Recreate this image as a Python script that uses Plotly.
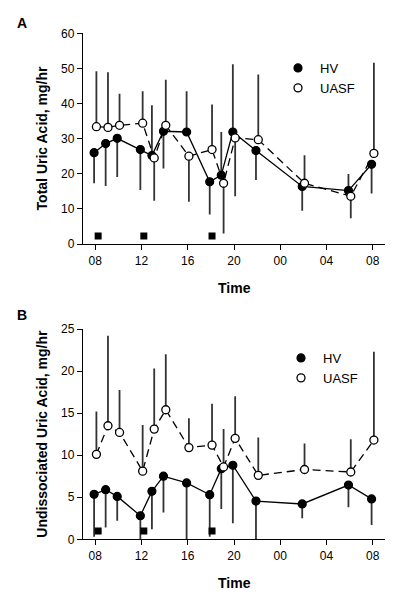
import plotly.graph_objects as go

# ---------------- data ----------------
times = [8, 9, 10, 12, 13, 14, 16, 18, 19, 20, 22, 26, 30, 32]
tick_vals = [8, 12, 16, 20, 24, 28, 32]
tick_text = ["08", "12", "16", "20", "00", "04", "08"]
meal_times = [8.25, 12.2, 18.1]

# Panel A: total uric acid (mg/hr)
hv_total = [26.0, 28.6, 30.1, 26.9, 25.2, 32.1, 31.9, 17.7, 19.6, 31.9, 26.6, 16.4, 15.2, 22.7]
hv_total_err = [8.7, 12.1, 11.0, 11.5, 14.3, 10.6, 11.6, 9.3, 12.3, 19.3, 8.4, 6.9, 4.7, 8.3]
uasf_total = [33.4, 33.2, 33.8, 34.4, 24.5, 33.8, 25.0, 26.9, 17.3, 30.2, 29.7, 17.3, 13.6, 25.8]
uasf_total_err = [15.8, 15.7, 9.0, 9.1, 12.2, 13.0, 13.0, 12.8, 14.3, 16.6, 18.6, 8.0, 6.3, 25.8]
meal_level_total = [2.3, 2.3, 2.3]

# Panel B: undissociated uric acid (mg/hr)
hv_undiss = [5.35, 5.9, 5.1, 2.8, 5.7, 7.5, 6.7, 5.3, 8.4, 8.8, 4.55, 4.2, 6.45, 4.8]
hv_undiss_err = [5.05, 4.5, 2.9, 2.8, 4.5, 4.3, 6.7, 5.0, 4.8, 6.9, 4.55, 1.7, 2.65, 3.1]
uasf_undiss = [10.1, 13.5, 12.7, 8.1, 13.1, 15.4, 10.9, 11.2, 8.6, 12.0, 7.6, 8.3, 8.0, 11.8]
uasf_undiss_err = [5.1, 10.7, 5.05, 5.5, 7.2, 6.6, 3.5, 4.9, 4.5, 5.0, 4.5, 3.1, 3.9, 10.5]
meal_level_undiss = [1.0, 1.0, 1.0]

# ---------------- styling ----------------
FONT = "Arial, Liberation Sans, Helvetica, sans-serif"
X_SHIFT = 0.1  # horizontal offset of the two groups (hours)
ERR_COLOR = "#333333"


def one_sided(vals, errs, other):
    up = [e if v >= o else 0 for v, e, o in zip(vals, errs, other)]
    down = [0 if v >= o else e for v, e, o in zip(vals, errs, other)]
    return up, down


def add_panel(fig, hv, hv_err, ua, ua_err, meal_y, xa, ya, legend):
    hv_x = [t - X_SHIFT for t in times]
    ua_x = [t + X_SHIFT for t in times]
    fig.add_trace(go.Scatter(x=hv_x, y=hv, mode="lines", xaxis=xa, yaxis=ya,
                             line=dict(color="black", width=1.3),
                             showlegend=False, hoverinfo="skip"))
    fig.add_trace(go.Scatter(x=ua_x, y=ua, mode="lines", xaxis=xa, yaxis=ya,
                             line=dict(color="black", width=1.3, dash="8px,5px"),
                             showlegend=False, hoverinfo="skip"))
    hv_up, hv_dn = one_sided(hv, hv_err, ua)
    ua_up, ua_dn = one_sided(ua, ua_err, hv)
    fig.add_trace(go.Scatter(
        x=hv_x, y=hv, mode="markers", name="HV", xaxis=xa, yaxis=ya, legend=legend,
        marker=dict(size=8, color="black", line=dict(color="black", width=1.2)),
        error_y=dict(type="data", symmetric=False, array=hv_up, arrayminus=hv_dn,
                     width=0, thickness=1.8, color=ERR_COLOR)))
    fig.add_trace(go.Scatter(
        x=ua_x, y=ua, mode="markers", name="UASF", xaxis=xa, yaxis=ya, legend=legend,
        marker=dict(size=8, color="white", line=dict(color="black", width=1.3)),
        error_y=dict(type="data", symmetric=False, array=ua_up, arrayminus=ua_dn,
                     width=0, thickness=1.8, color=ERR_COLOR)))
    fig.add_trace(go.Scatter(
        x=meal_times, y=meal_y, mode="markers", xaxis=xa, yaxis=ya, showlegend=False,
        marker=dict(symbol="square", size=7, color="black"), hoverinfo="skip"))


fig = go.Figure()
add_panel(fig, hv_total, hv_total_err, uasf_total, uasf_total_err, meal_level_total,
          "x", "y", "legend")
add_panel(fig, hv_undiss, hv_undiss_err, uasf_undiss, uasf_undiss_err, meal_level_undiss,
          "x2", "y2", "legend2")

W, H = 400, 601
x_dom = [83 / W, 385 / W]
top_dom = [(H - 244) / H, (H - 33.3) / H]
bot_dom = [(H - 539.3) / H, (H - 329) / H]

xaxis_common = dict(range=[6.94, 33.06], tickvals=tick_vals, ticktext=tick_text,
                    showline=True, linecolor="black", linewidth=1.3, ticks="outside",
                    ticklen=5, tickwidth=1.3, tickcolor="black", showgrid=False,
                    zeroline=False, automargin=False,
                    tickfont=dict(family=FONT, size=12, color="black"), domain=x_dom)
yaxis_common = dict(showline=True, linecolor="black", linewidth=1.3, ticks="outside",
                    ticklen=5, tickwidth=1.3, tickcolor="black", showgrid=False,
                    zeroline=False, automargin=False,
                    tickfont=dict(family=FONT, size=12, color="black"))

title_font = dict(family=FONT, size=14, color="black")


def paper_y(px):
    return (H - px) / H


annotations = [
    dict(text="<b>A</b>", x=21.7 / W, y=paper_y(23.3)),
    dict(text="<b>B</b>", x=21.7 / W, y=paper_y(315)),
    dict(text="<b>Total Uric Acid, mg/hr</b>", x=41.7 / W, y=paper_y(138.7), textangle=-90),
    dict(text="<b>Undissociated Uric Acid, mg/hr</b>", x=41.7 / W, y=paper_y(434),
         textangle=-90),
    dict(text="<b>Time</b>", x=234 / W, y=paper_y(288)),
    dict(text="<b>Time</b>", x=234 / W, y=paper_y(583)),
]
for a in annotations:
    a.update(xref="paper", yref="paper", showarrow=False, xanchor="center",
             yanchor="middle", font=title_font)

fig.update_layout(
    width=W, height=H, margin=dict(l=0, r=0, t=0, b=0, pad=0),
    paper_bgcolor="white", plot_bgcolor="white",
    font=dict(family=FONT, color="black"),
    xaxis=dict(**xaxis_common, anchor="y"),
    xaxis2=dict(**xaxis_common, anchor="y2"),
    yaxis=dict(**yaxis_common, range=[0, 60], tickvals=[0, 10, 20, 30, 40, 50, 60],
               domain=top_dom, anchor="x"),
    yaxis2=dict(**yaxis_common, range=[0, 25], tickvals=[0, 5, 10, 15, 20, 25],
                domain=bot_dom, anchor="x2"),
    legend=dict(x=276 / W, y=paper_y(53), xanchor="left", yanchor="top",
                bgcolor="rgba(0,0,0,0)", font=dict(family=FONT, size=13, color="black"),
                tracegroupgap=0, itemwidth=34),
    legend2=dict(x=279 / W, y=paper_y(343), xanchor="left", yanchor="top",
                 bgcolor="rgba(0,0,0,0)", font=dict(family=FONT, size=13, color="black"),
                 tracegroupgap=0, itemwidth=34),
    annotations=annotations,
)

fig.write_html("out.html", config={"displayModeBar": False},
               post_script="document.body.style.margin='0';document.body.style.padding='0';")
